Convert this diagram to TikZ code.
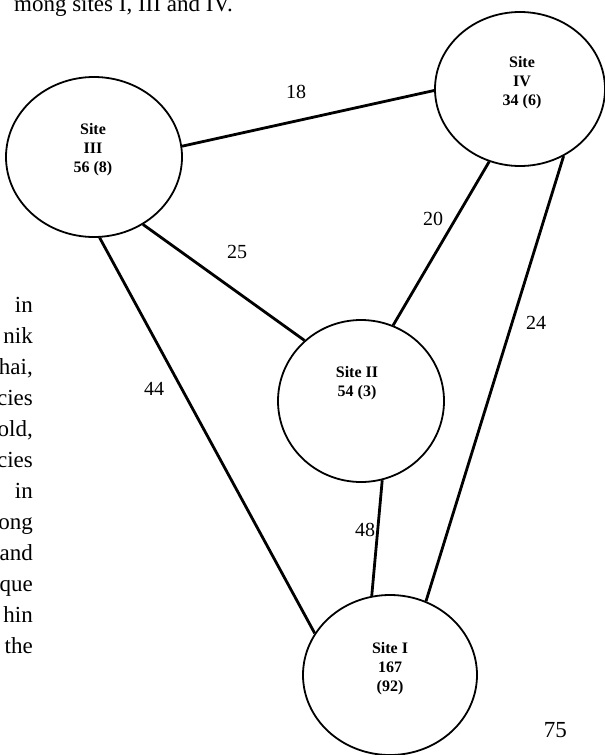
\documentclass[tikz,border=0pt]{standalone}
\usepackage{fontspec}
\setmainfont{Liberation Serif}
\usetikzlibrary{shapes.geometric}
\begin{document}
\begin{tikzpicture}[x=1pt, y=-1pt]
		\tikzset{site/.style={ellipse, draw=black, line width=1.8pt, inner sep=0pt},
			sitetxt/.style={align=center, inner sep=0pt, font=\fontsize{16}{19}\selectfont\bfseries},
			lnk/.style={line width=2.8pt},
			wt/.style={inner sep=0pt, font=\fontsize{20}{24}\selectfont},
			txt/.style={anchor=base east, inner sep=0pt, font=\fontsize{23}{31}\selectfont}};

		\useasboundingbox (0, 0) rectangle (605, 755);

		\node[site, minimum width=176pt, minimum height=160pt] (iii) at (94, 157) {};
		\node[site, minimum width=170pt, minimum height=154pt] (iv) at (520, 89) {};
		\node[site, minimum width=166pt, minimum height=162pt] (ii) at (361, 401) {};
		\node[site, minimum width=174pt, minimum height=160pt] (i) at (390, 675) {};

		\node[sitetxt] (tiii) at (93, 150) {Site\\III\\56 (8)};
		\node[sitetxt] (tiv) at (522, 83) {Site\\IV\\34 (6)};
		\node[sitetxt] (tii) at (357, 383) {Site II\\54 (3)};
		\node[sitetxt] (ti) at (390, 669) {Site I\\167\\(92)};

		\draw[lnk] (iii.7) to (iv.181);
		\draw[lnk] (iii.-54) to (ii.133);
		\draw[lnk] (iii.-86) to (i.151);

		\draw[lnk] (iv.247) to (ii.67);
		\draw[lnk] (iv.-57) to (i.64);

		\draw[lnk] (ii.-75) to (i.103);

		\node[wt] (w18) at (296, 92) {18};
		\node[wt] (w25) at (237, 252) {25};
		\node[wt] (w44) at (154, 389) {44};
		\node[wt] (w20) at (433, 219) {20};
		\node[wt] (w24) at (536, 323) {24};
		\node[wt] (w48) at (365, 530) {48};

		% surrounding page text
		\node[txt] (top) at (233, 11) {mong sites I, III and IV.};
		\node[txt] (l1) at (33, 312) {in};
		\node[txt] (l2) at (33, 343) {nik};
		\node[txt] (l3) at (33, 374) {hai,};
		\node[txt] (l4) at (33, 405) {cies};
		\node[txt] (l5) at (33, 436) {old,};
		\node[txt] (l6) at (33, 467) {cies};
		\node[txt] (l7) at (33, 498) {in};
		\node[txt] (l8) at (33, 529) {ong};
		\node[txt] (l9) at (33, 560) {and};
		\node[txt] (l10) at (33, 591) {que};
		\node[txt] (l11) at (33, 622) {hin};
		\node[txt] (l12) at (33, 653) {the};
		\node[txt] (pg) at (567, 737) {75};
	\end{tikzpicture}
\end{document}
